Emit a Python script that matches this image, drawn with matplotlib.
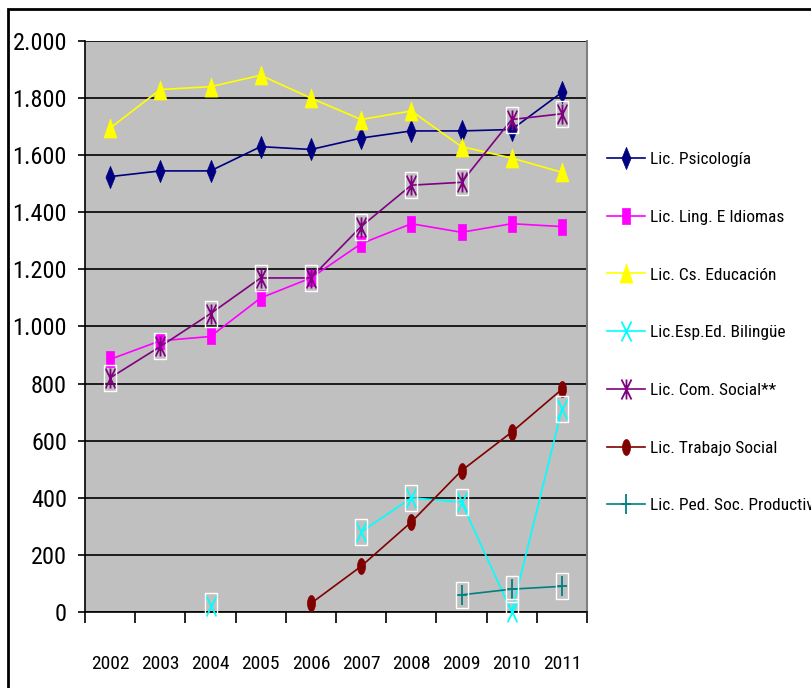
import numpy as np
import matplotlib
matplotlib.use("Agg")
import matplotlib.pyplot as plt
from matplotlib.path import Path
from matplotlib.patches import Rectangle
from matplotlib.ticker import FixedLocator, FuncFormatter

nan = np.nan

years = ["2002", "2003", "2004", "2005", "2006", "2007", "2008", "2009", "2010", "2011"]

psicologia = [1525, 1545, 1545, 1630, 1620, 1660, 1685, 1685, 1690, 1820]
idiomas = [885, 950, 965, 1100, 1170, 1290, 1360, 1330, 1360, 1350]
educacion = [1695, 1830, 1840, 1880, 1800, 1725, 1755, 1630, 1590, 1540]
bilingue = [nan, nan, 20, nan, nan, 280, 400, 385, 0, 710]
com_social = [820, 930, 1045, 1170, 1170, 1350, 1495, 1505, 1725, 1745]
trabajo_social = [nan, nan, nan, nan, 30, 160, 315, 495, 630, 780]
ped_productiva = [nan, nan, nan, nan, nan, nan, nan, 60, 80, 90]

labels = ["Lic. Psicología", "Lic. Ling. E Idiomas", "Lic. Cs. Educación",
          "Lic.Esp.Ed. Bilingüe", "Lic. Com. Social**", "Lic. Trabajo Social",
          "Lic. Ped. Soc. Productiva"]

plt.rcParams['font.family'] = ['Roboto Condensed', 'DejaVu Sans']


def closed(pts):
    pts = list(pts) + [pts[0]]
    codes = [Path.MOVETO] + [Path.LINETO] * (len(pts) - 2) + [Path.CLOSEPOLY]
    return Path(pts, codes)


def strokes(segs):
    verts, codes = [], []
    for a, b in segs:
        verts += [a, b]
        codes += [Path.MOVETO, Path.LINETO]
    return Path(verts, codes)


# tall, narrow markers
diamond = closed([(0, 1), (0.41, 0), (0, -1), (-0.41, 0)])
square = closed([(-0.56, -1), (0.56, -1), (0.56, 1), (-0.56, 1)])
triangle = closed([(0, 1), (0.68, -1), (-0.68, -1)])
t = np.linspace(0, 2 * np.pi, 40, endpoint=False)
ellipse = closed(list(zip(0.5 * np.cos(t), np.sin(t))))
xmark = strokes([((-0.5, -1), (0.5, 1)), ((-0.5, 1), (0.5, -1))])
star = strokes([((-0.5, -1), (0.5, 1)), ((-0.5, 1), (0.5, -1)), ((0, -1), (0, 1))])
plus = strokes([((0, -1), (0, 1)), ((-0.5, 0), (0.5, 0))])
box = closed([(-0.48, -1), (0.48, -1), (0.48, 1), (-0.48, 1)])

fig = plt.figure(figsize=(8.11, 6.88), dpi=100)
ax = fig.add_axes([85 / 811, 1 - 612 / 688, 502 / 811, 571 / 688])
ax.set_facecolor("#C0C0C0")

x = np.arange(len(years))

series = [
    (psicologia, "#000080", diamond, 16, True, False),
    (idiomas, "#FF00FF", square, 11.5, True, False),
    (educacion, "#FFFF00", triangle, 13.7, True, False),
    (bilingue, "#00FFFF", xmark, 14.4, False, True),
    (com_social, "#800080", star, 14.4, False, True),
    (trabajo_social, "#800000", ellipse, 11.5, True, False),
    (ped_productiva, "#008080", plus, 14.4, False, True),
]

for (vals, color, mk, ms, filled, boxed), lab in zip(series, labels):
    ax.plot(x, vals, color=color, lw=1.2, marker=mk, ms=ms,
            mfc=color if filled else "none", mec=color,
            mew=0.5 if filled else 1.3, label=lab, clip_on=False, zorder=3)
    if boxed:
        ax.plot(x, vals, ls="none", marker=box, ms=19.4, mfc="none",
                mec="white", mew=1.0, clip_on=False, zorder=4)

ax.set_xlim(-0.5, 9.5)
ax.set_ylim(0, 2000)
ax.set_yticks(np.arange(0, 2001, 200))
ax.yaxis.set_major_formatter(FuncFormatter(lambda v, p: f"{int(v):,}".replace(",", ".")))
ax.grid(axis="y", color="black", lw=1.2)
ax.set_axisbelow(True)

ax.set_xticks(x)
ax.set_xticklabels(years)
ax.xaxis.set_minor_locator(FixedLocator(np.arange(-0.5, 10, 1)))
ax.tick_params(axis="x", which="major", length=0, pad=31, labelsize=14)
ax.tick_params(axis="x", which="minor", length=8, width=1.2, direction="out")
ax.tick_params(axis="y", length=5, width=1.2, pad=8, labelsize=17.5)

ax.spines["top"].set_visible(False)
ax.spines["right"].set_color("#808080")
ax.spines["right"].set_linewidth(1.5)
ax.spines["left"].set_linewidth(1.2)
ax.spines["bottom"].set_linewidth(1.2)

fig.legend(loc="upper left", bbox_to_anchor=(607 / 811, 1 - 152 / 688),
           frameon=False, fontsize=12.5, handlelength=2.2, handletextpad=0.3,
           labelspacing=2.45, borderpad=0, borderaxespad=0)

# outer chart frame
fig.add_artist(Rectangle((8 / 811, -0.1), 1.2, 1.1 - 9 / 688, transform=fig.transFigure,
                         fill=False, edgecolor="black", lw=2))

fig.savefig("out.png", dpi=100)
